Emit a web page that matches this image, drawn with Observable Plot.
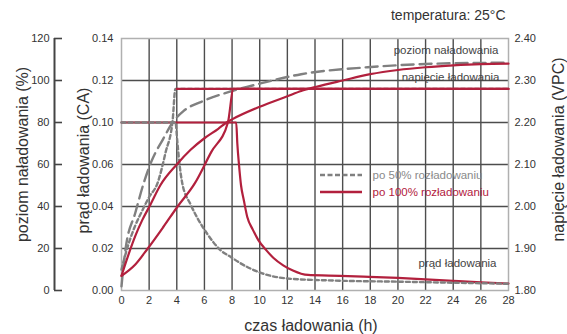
<!DOCTYPE html>
<html><head><meta charset="utf-8">
<script src="https://cdn.jsdelivr.net/npm/d3@7"></script>
<script src="https://cdn.jsdelivr.net/npm/@observablehq/plot@0.6"></script>
<style>
html,body{margin:0;padding:0;background:#fff;}
#chart{width:567px;height:334px;}
</style></head><body><div id="chart"></div>
<script>
// ---- tick values / labels ----
const hourTicks = [0,2,4,6,8,10,12,14,16,18,20,22,24,26,28];
const levelTicks = [0,20,40,60,80,100,120];
const currentTickLabels = ["0.00","0.02","0.04","0.06","0.10","0.12","0.14"];
const voltageTickLabels = ["1.80","1.90","2.00","2.10","2.20","2.30","2.40"];

// ---- after 50% discharge (gray dashed) ----
const grayLevelHours = [0,0.15,0.3,1.0,1.6,2.2,3.0,3.7,4.5,6,8,10,13,17.8,22.6,28];
const grayLevel      = [2,12,20,37,51,62,72,80,85.5,90.5,95,98.5,103,106.3,108,108.5];
const grayVoltHours  = [0,0.5,1,1.5,2,2.6,3.2,3.7,3.9,28];
const grayVolt       = [1.85,1.91,1.955,1.99,2.0225,2.055,2.13,2.205,2.28,2.28];
const grayCurrHours  = [0,3.9,4.05,4.2,4.4,5.0,5.9,6.2,7.2,7.9,8.6,10,12,15,20,24,28];
const grayCurr       = [0.10,0.10,0.080,0.060,0.051,0.041,0.030,0.027,0.019,0.016,0.013,0.0086,0.0057,0.0048,0.0042,0.0037,0.0032];

// ---- after 100% discharge (red solid) ----
const redLevelHours = [0,0.5,1,1.5,2.1,2.8,4,5,6,7,7.6,8,10,12,13,14.1,16,18,20,22,24,26,28];
const redLevel      = [7,17,26,33.5,41,50,60,67,72.5,77,80,81.5,87.5,92.5,95,97,100,103,105,106.3,107.2,107.8,108];
const redVoltHours  = [0,1,1.9,3,4.06,5.3,6.5,7.7,8.1,28];
const redVolt       = [1.835,1.862,1.90,1.95,2.00,2.055,2.13,2.20,2.28,2.28];
const redCurrHours  = [0,8.3,8.38,8.5,8.65,8.85,9.1,9.5,9.9,10.5,11.0,11.7,12.4,13.0,13.5,15,17.5,20,22,24,26,28];
const redCurr       = [0.10,0.10,0.080,0.060,0.050,0.043,0.035,0.029,0.024,0.019,0.0155,0.012,0.0095,0.008,0.0074,0.0071,0.0066,0.0060,0.0053,0.0046,0.0039,0.0033];

// charging-voltage setpoint line
const limitHours = [4,28];
const limitVolt  = [2.28,2.28];

// ---- unit mapping onto the shared vertical scale (grid rows) ----
const currentToRow = d3.scaleLinear().domain(currentTickLabels.map(Number)).range(levelTicks);
const voltToRow    = d3.scaleLinear().domain(voltageTickLabels.map(Number)).range(levelTicks);

const rows = (hs, vs, f) => hs.map((h,i)=>({h, v: f ? f(vs[i]) : vs[i]}));
const gLevel = rows(grayLevelHours, grayLevel);
const gVolt  = rows(grayVoltHours, grayVolt, voltToRow);
const gCurr  = rows(grayCurrHours, grayCurr, currentToRow);
const rLevel = rows(redLevelHours, redLevel);
const rVolt  = rows(redVoltHours, redVolt, voltToRow);
const rCurr  = rows(redCurrHours, redCurr, currentToRow);
const lim    = rows(limitHours, limitVolt, voltToRow);

const RED = "#b2203d", GRAY = "#808080", GRID = "#4d4d4d", TXT = "#333";
const lineOpts = (stroke, dash, w) => ({x:"h", y:"v", stroke, strokeWidth:w, strokeDasharray:dash, curve:"monotone-x"});
const T = (s, o) => Plot.text([s], {textAnchor: "middle", lineAnchor: "middle", fill: TXT, ...o});

const plot = Plot.plot({
  width: 567, height: 334,
  marginLeft: 121, marginRight: 59, marginTop: 38, marginBottom: 44,
  style: {fontFamily: "'Liberation Sans', Arial, sans-serif", fontSize: "11px", color: TXT, background: "#fff"},
  x: {domain: [0,28]},
  y: {domain: [0,120]},
  marks: [
    Plot.gridX(hourTicks.slice(1,-1), {stroke: GRID, strokeOpacity: 1, strokeWidth: 1.4}),
    Plot.gridY(levelTicks.slice(1,-1), {stroke: GRID, strokeOpacity: 1, strokeWidth: 1.4}),
    Plot.frame({stroke: "#b0b0b0", strokeWidth: 1.5}),
    // axes
    Plot.axisX({ticks: hourTicks, tickSize: 0, tickPadding: 6, label: null, tickFormat: d => String(d)}),
    Plot.axisY({anchor: "left", ticks: levelTicks, tickSize: 0, tickPadding: 8, label: null,
      tickFormat: d => currentTickLabels[levelTicks.indexOf(d)]}),
    Plot.axisY({anchor: "right", ticks: levelTicks, tickSize: 0, tickPadding: 6, label: null,
      tickFormat: d => voltageTickLabels[levelTicks.indexOf(d)]}),
    Plot.axisY({anchor: "left", ticks: levelTicks, tickSize: 8, tickPadding: 5, dx: -59, label: null,
      stroke: "#444", strokeWidth: 1.6, tickFormat: d => String(d)}),
    Plot.ruleX([0], {dx: -67, stroke: "#444", strokeWidth: 2}),
    // curves
    Plot.line(rCurr, lineOpts(RED, null, 2.2)),
    Plot.line(gCurr, lineOpts(GRAY, "4,3", 2.4)),
    Plot.line(gVolt, lineOpts(GRAY, "4,3", 2.4)),
    Plot.line(gLevel, lineOpts(GRAY, "12,6", 2.4)),
    Plot.line(rVolt, lineOpts(RED, null, 2.2)),
    Plot.line(rLevel, lineOpts(RED, null, 2.2)),
    Plot.line(lim, lineOpts(RED, null, 2.2)),
    // titles
    T("poziom naładowania (%)", {frameAnchor: "left", rotate: -90, dx: -99, dy: -10, fontSize: 16}),
    T("prąd ładowania (CA)", {frameAnchor: "left", rotate: -90, dx: -38, dy: -4, fontSize: 16}),
    T("napięcie ładowania (VPC)", {frameAnchor: "right", rotate: -90, dx: 50, dy: -15, fontSize: 16}),
    T("czas ładowania (h)", {frameAnchor: "bottom", dx: -4, dy: 35, fontSize: 16}),
    T("temperatura: 25°C", {frameAnchor: "top-right", dx: -3, dy: -23, textAnchor: "end", fontSize: 14}),
    // curve labels
    T("poziom naładowania", {frameAnchor: "top-right", dx: -10, dy: 12, textAnchor: "end", fontSize: 11.5, fill: "#444"}),
    T("napięcie ładowania", {frameAnchor: "top-right", dx: -9, dy: 39, textAnchor: "end", fontSize: 11.5, fill: "#444"}),
    T("prąd ładowania", {frameAnchor: "bottom-right", dx: -12, dy: -27, textAnchor: "end", fontSize: 11.5, fill: "#444"}),
    // legend texts
    T("po 50% rozładowaniu", {frameAnchor: "top-left", dx: 251, dy: 137, textAnchor: "start", fontSize: 11.5, fill: "#8a8a8a"}),
    T("po 100% rozładowaniu", {frameAnchor: "top-left", dx: 251, dy: 154, textAnchor: "start", fontSize: 11.5, fill: RED})
  ]
});

// legend swatches
const svg = d3.select(plot);
svg.append("line").attr("x1", 320).attr("x2", 362).attr("y1", 175).attr("y2", 175)
  .attr("stroke", GRAY).attr("stroke-width", 2.6).attr("stroke-dasharray", "5,2.5");
svg.append("line").attr("x1", 320).attr("x2", 362).attr("y1", 192).attr("y2", 192)
  .attr("stroke", RED).attr("stroke-width", 2.4);

document.getElementById("chart").appendChild(plot);
</script></body></html>
